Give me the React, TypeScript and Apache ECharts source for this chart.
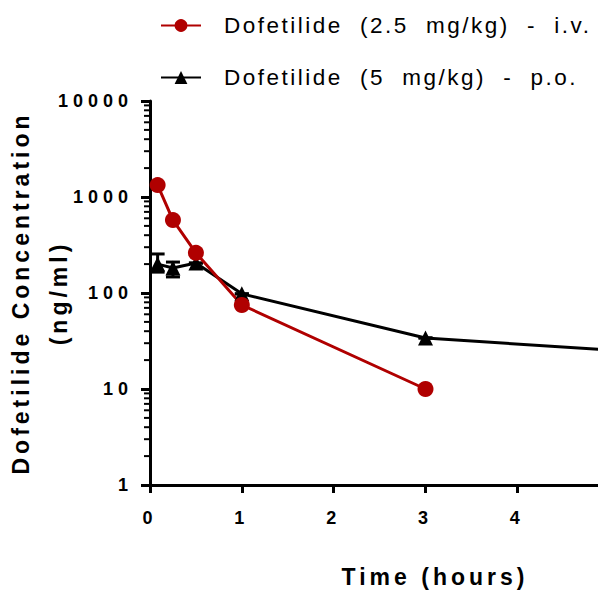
import React, { useEffect, useRef } from "react";
import * as echarts from "echarts";

const ivName = "Dofetilide (2.5 mg/kg) - i.v.";
const poName = "Dofetilide (5 mg/kg) - p.o.";
const ivTimes = [0.083, 0.25, 0.5, 1, 3];
const ivConc = [1330, 575, 262, 75, 10];
const poTimes = [0.083, 0.25, 0.5, 1, 3, 6];
const poConc = [200, 182, 205, 98, 34, 22];
const poErrLow = [165, 147, 205, 98, 34, 22];
const poErrHigh = [255, 210, 205, 98, 34, 22];
const xTickLabels = ["0", "1", "2", "3", "4"];
const yDecades = [1, 10, 100, 1000, 10000];
const minorMultipliers = [2, 3, 4, 5, 6, 7, 8, 9];

const RED = "#b00000";
const FONT = "'Liberation Sans', Arial, sans-serif";

const css = `
.dof-chart text { letter-spacing: 5px; }
.dof-chart text[style*="23px"] { letter-spacing: 4px; }
.dof-chart text[style*="22.5px"] { letter-spacing: 2.5px; word-spacing: 8.5px; }
`;

export default function App() {
  const ref = useRef<HTMLDivElement>(null);
  useEffect(() => {
    const chart = echarts.init(ref.current!, null, { renderer: "svg" });
    const minorTicks: number[][] = [];
    for (let i = 0; i < yDecades.length - 1; i++)
      for (const m of minorMultipliers) minorTicks.push([0, yDecades[i] * m]);
    const errData = poTimes.map((t, i) => [t, poErrLow[i], poErrHigh[i]]);

    chart.setOption({
      animation: false,
      textStyle: { fontFamily: FONT },
      grid: {
        left: 150,
        top: 101,
        width: 551,
        height: 384,
        containLabel: false,
        outerBoundsMode: "none",
      },
      legend: {
        orient: "vertical",
        left: 160,
        top: 14,
        padding: 0,
        itemWidth: 40,
        itemHeight: 16,
        itemGap: 29,
        data: [ivName, poName],
        textStyle: {
          fontSize: 22.5,
          lineHeight: 23,
          color: "#000",
          fontFamily: FONT,
          padding: [0, 0, 0, 18],
        },
      },
      xAxis: {
        type: "value",
        min: 0,
        max: 6,
        interval: 1,
        splitLine: { show: false },
        axisLine: { lineStyle: { color: "#000", width: 3 } },
        axisTick: { length: 8, lineStyle: { color: "#000", width: 3 } },
        axisLabel: {
          margin: 24,
          fontSize: 18,
          fontWeight: "bold",
          color: "#000",
          fontFamily: FONT,
          formatter: (v: number) => xTickLabels[v] ?? "",
        },
      },
      yAxis: {
        type: "log",
        logBase: 10,
        min: 1,
        max: 10000,
        splitLine: { show: false },
        axisLine: { show: true, lineStyle: { color: "#000", width: 3 } },
        axisTick: { show: true, length: 9, lineStyle: { color: "#000", width: 3 } },
        axisLabel: {
          margin: 17,
          fontSize: 18,
          fontWeight: "bold",
          color: "#000",
          fontFamily: FONT,
          formatter: (v: number) => String(Math.round(v)),
        },
        name: "Dofetilide Concentration\n(ng/ml)",
        nameLocation: "middle",
        nameRotate: 90,
        nameGap: 72,
        nameMoveOverlap: false,
        nameTextStyle: {
          fontSize: 23,
          fontWeight: "bold",
          color: "#000",
          lineHeight: 38,
          fontFamily: FONT,
        },
      },
      graphic: [
        {
          type: "text",
          x: 435,
          y: 577,
          style: {
            text: "Time (hours)",
            fontSize: 23,
            fontWeight: "bold",
            fill: "#000",
            fontFamily: FONT,
            textAlign: "center",
            textVerticalAlign: "middle",
          },
        },
      ],
      series: [
        {
          type: "custom",
          name: "minorTicks",
          coordinateSystem: "cartesian2d",
          clip: false,
          silent: true,
          data: minorTicks,
          renderItem: (params: any, api: any) => {
            const p = api.coord([api.value(0), api.value(1)]);
            return {
              type: "line",
              shape: { x1: p[0] - 6, y1: p[1], x2: p[0], y2: p[1] },
              style: { stroke: "#000", lineWidth: 2 },
            };
          },
        },
        {
          type: "custom",
          name: "poErr",
          coordinateSystem: "cartesian2d",
          silent: true,
          data: errData,
          encode: { x: 0, y: [1, 2] },
          renderItem: (params: any, api: any) => {
            const lo = api.coord([api.value(0), api.value(1)]);
            const hi = api.coord([api.value(0), api.value(2)]);
            const w = 7;
            const st = { stroke: "#000", lineWidth: 3 };
            return {
              type: "group",
              children: [
                { type: "line", shape: { x1: lo[0], y1: lo[1], x2: hi[0], y2: hi[1] }, style: st },
                { type: "line", shape: { x1: hi[0] - w, y1: hi[1], x2: hi[0] + w, y2: hi[1] }, style: st },
                { type: "line", shape: { x1: lo[0] - w, y1: lo[1], x2: lo[0] + w, y2: lo[1] }, style: st },
              ],
            };
          },
        },
        {
          type: "line",
          name: poName,
          data: poTimes.map((t, i) => [t, poConc[i]]),
          symbol: "triangle",
          symbolSize: 15,
          showAllSymbol: true,
          lineStyle: { color: "#000", width: 3 },
          itemStyle: { color: "#000" },
        },
        {
          type: "line",
          name: ivName,
          data: ivTimes.map((t, i) => [t, ivConc[i]]),
          symbol: "circle",
          symbolSize: 16,
          showAllSymbol: true,
          lineStyle: { color: RED, width: 3 },
          itemStyle: { color: RED },
        },
      ],
    });
    return () => chart.dispose();
  }, []);
  return (
    <>
      <style>{css}</style>
      <div
        ref={ref}
        className="dof-chart"
        style={{
          position: "fixed",
          left: 0,
          top: 0,
          width: 598,
          height: 593,
          background: "#fff",
        }}
      />
    </>
  );
}
